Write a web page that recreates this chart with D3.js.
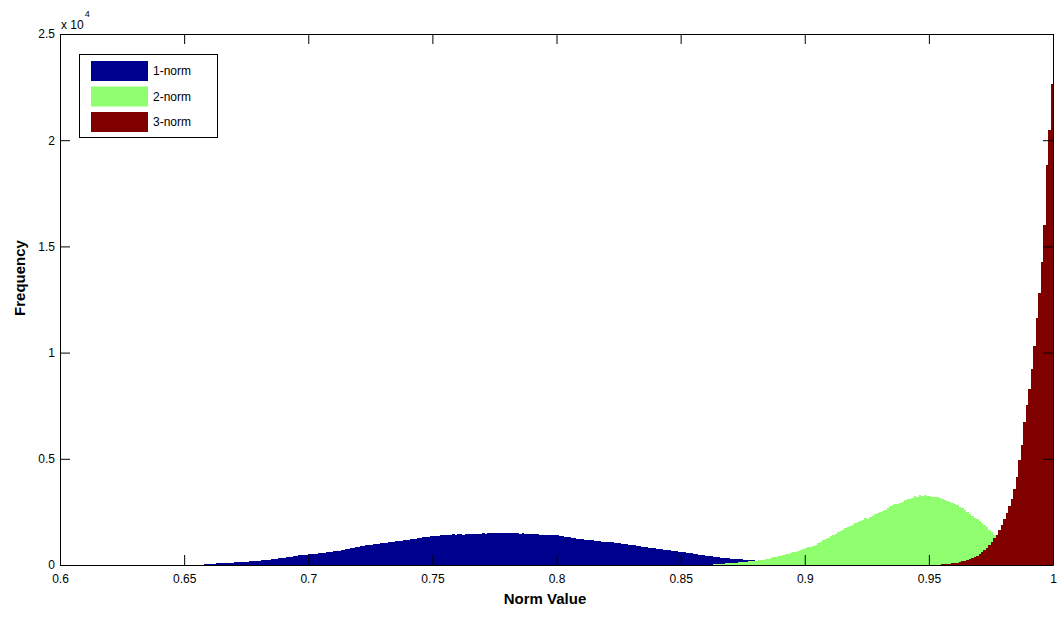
<!DOCTYPE html>
<html>
<head>
<meta charset="utf-8">
<script src="https://cdn.jsdelivr.net/npm/d3@7"></script>
<style>
  html, body { margin: 0; padding: 0; background: #fff; }
  svg { display: block; }
  text { font-family: Arial, "Liberation Sans", Helvetica, sans-serif; }
</style>
</head>
<body>
<svg id="chart" width="1063" height="620"></svg>
<script>
// ---------------- DATA ----------------
const seriesNames = ["1-norm", "2-norm", "3-norm"];
const binWidth = 0.001;

// 1-norm: bins start at 0.657, width 0.001
const norm1Start = 0.657;
const norm1Values = [
  20, 38, 50,
  58, 62, 70, 74, 80,
  88, 95, 100, 108, 114,
  121, 130, 136, 146, 150,
  160, 166, 178, 185, 194,
  204, 212, 228, 238, 252,
  268, 282, 300, 312, 330,
  352, 366, 384, 400, 418,
  438, 452, 460, 478, 486,
  505, 512, 530, 536, 550,
  565, 580, 596, 612, 628,
  648, 668, 680, 700, 718,
  742, 765, 786, 808, 832,
  858, 880, 900, 922, 940,
  962, 980, 990, 1008, 1018,
  1040, 1048, 1068, 1080, 1098,
  1115, 1130, 1145, 1160, 1178,
  1195, 1210, 1228, 1245, 1262,
  1280, 1300, 1315, 1330, 1350,
  1372, 1365, 1388, 1395, 1402,
  1415, 1400, 1425, 1440, 1430,
  1442, 1450, 1435, 1462, 1455,
  1470, 1458, 1480, 1465, 1478,
  1485, 1470, 1495, 1500, 1490,
  1510, 1525, 1500, 1530, 1515,
  1520, 1505, 1512, 1495, 1500,
  1480, 1492, 1470, 1465, 1475,
  1450, 1440, 1458, 1432, 1435,
  1425, 1410, 1430, 1405, 1412,
  1390, 1370, 1355, 1335, 1325,
  1300, 1280, 1262, 1240, 1225,
  1210, 1195, 1185, 1168, 1160,
  1140, 1130, 1120, 1105, 1098,
  1085, 1070, 1065, 1050, 1045,
  1025, 1010, 990, 975, 960,
  940, 925, 900, 885, 865,
  840, 828, 805, 790, 778,
  760, 745, 730, 712, 700,
  685, 672, 660, 645, 632,
  618, 600, 582, 565, 548,
  528, 510, 492, 478, 460,
  442, 430, 410, 398, 385,
  368, 352, 340, 322, 310,
  295, 288, 275, 268, 260,
  250, 240, 232, 220, 212,
  200, 192, 185, 178, 170,
  160, 150, 142, 132, 125,
  115, 110, 102, 98, 92,
  85, 80, 72, 68, 62
];

// 2-norm: bins start at 0.863, width 0.001
const norm2Start = 0.863;
const norm2Values = [
  45, 50, 55, 60, 68, 75, 82, 90, 98, 108,
  118, 128, 140, 155, 168, 180, 192, 205, 220, 235,
  250, 268, 295, 325, 355, 380, 415, 445, 475, 505,
  535, 565, 595, 625, 660, 690, 735, 780, 825, 870,
  915, 960, 1025, 1090, 1155, 1220, 1285, 1350, 1415, 1480,
  1545, 1605, 1670, 1735, 1795, 1855, 1900, 1955, 2005, 2055,
  2105, 2190, 2170, 2260, 2290, 2380, 2470, 2495, 2555, 2600,
  2695, 2755, 2830, 2850, 2860, 2920, 2950, 3070, 3095, 3120,
  3175, 3230, 3190, 3290, 3240, 3280, 3230, 3260, 3225, 3190,
  3190, 3135, 3120, 3065, 3020, 2980, 2940, 2875, 2810, 2745,
  2680, 2595, 2505, 2415, 2325, 2235, 2150, 2065, 1980, 1885,
  1780, 1670, 1540, 1405, 1270, 1130, 990, 850, 705, 565,
  445, 330, 235, 165, 110, 70, 45, 28, 15
];

// 3-norm: bins start at 0.955, width 0.001
const norm3Start = 0.955;
const norm3Values = [
  30, 47, 55, 70, 85, 100, 115, 140, 175, 210,
  245, 290, 340, 390, 445, 525, 600, 695, 815, 930,
  1080, 1250, 1410, 1670, 1905, 2165, 2470, 2780, 3110, 3580,
  4140, 4940, 5650, 6730, 7530, 8290, 9230, 10310, 11630, 12800,
  14260, 16000, 18830, 20480, 22650
];

const xTicks = [0.6, 0.65, 0.7, 0.75, 0.8, 0.85, 0.9, 0.95, 1];
const xTickLabels = ["0.6", "0.65", "0.7", "0.75", "0.8", "0.85", "0.9", "0.95", "1"];
const yTicks = [0, 5000, 10000, 15000, 20000, 25000];
const yTickLabels = ["0", "0.5", "1", "1.5", "2", "2.5"];
const colors = ["#00008F", "#8FFF70", "#800000"];

// ---------------- CHART ----------------
const svg = d3.select("#chart");
const L = 60, R = 1053, T = 34, B = 565;
const x = d3.scaleLinear().domain([0.6, 1]).range([L, R]);
const y = d3.scaleLinear().domain([0, 25000]).range([B, T]);

svg.append("rect").attr("width", 1063).attr("height", 620).attr("fill", "#fff");

svg.append("clipPath").attr("id", "clip")
  .append("rect").attr("x", L).attr("y", T).attr("width", R - L).attr("height", B - T);

const series = [
  { start: norm1Start, values: norm1Values },
  { start: norm2Start, values: norm2Values },
  { start: norm3Start, values: norm3Values }
];

series.forEach((s, i) => {
  const bins = s.values.map((v, k) => ({ x0: s.start + k * binWidth, x1: s.start + (k + 1) * binWidth, v }));
  svg.append("g").attr("clip-path", "url(#clip)")
    .selectAll("rect").data(bins).join("rect")
    .attr("x", d => Math.round(x(d.x0)))
    .attr("width", d => Math.round(x(d.x1)) - Math.round(x(d.x0)))
    .attr("y", d => Math.round(y(d.v)))
    .attr("height", d => Math.round(y(0)) - Math.round(y(d.v)))
    .attr("fill", colors[i])
    .attr("shape-rendering", "crispEdges");
});

// axes
const fmtX = d => xTickLabels[xTicks.indexOf(d)];
const fmtY = d => yTickLabels[yTicks.indexOf(d)];

function styleAxis(g) {
  g.selectAll("path.domain").attr("stroke", "#000").attr("stroke-width", 1);
  g.selectAll(".tick line").attr("stroke", "#000");
  g.selectAll(".tick text").attr("fill", "#000").style("font-size", "12px")
    .style("font-family", "Arial, 'Liberation Sans', sans-serif");
}

svg.append("g").attr("transform", `translate(0,${B})`)
  .call(d3.axisBottom(x).tickValues(xTicks).tickFormat(fmtX).tickSizeInner(-10).tickSizeOuter(0).tickPadding(9))
  .call(styleAxis);
svg.append("g").attr("transform", `translate(0,${T})`)
  .call(d3.axisTop(x).tickValues(xTicks).tickFormat("").tickSizeInner(-10).tickSizeOuter(0))
  .call(styleAxis);
svg.append("g").attr("transform", `translate(${L},0)`)
  .call(d3.axisLeft(y).tickValues(yTicks).tickFormat(fmtY).tickSizeInner(-10).tickSizeOuter(0).tickPadding(5))
  .call(styleAxis);
svg.append("g").attr("transform", `translate(${R},0)`)
  .call(d3.axisRight(y).tickValues(yTicks).tickFormat("").tickSizeInner(-10).tickSizeOuter(0))
  .call(styleAxis);

// exponent label
const ex = svg.append("text").attr("x", 61).attr("y", 29).style("font-size", "12px").attr("fill", "#000");
ex.append("tspan").text("x 10");
ex.append("tspan").attr("dy", -12).style("font-size", "9px").attr("dx", 1).text("4");

// axis titles
svg.append("text").attr("x", 545).attr("y", 604).attr("text-anchor", "middle")
  .style("font-size", "15px").style("font-weight", "bold").attr("fill", "#000").text("Norm Value");
svg.append("text").attr("transform", "translate(25,278) rotate(-90)").attr("text-anchor", "middle")
  .style("font-size", "15px").style("font-weight", "bold").attr("fill", "#000").text("Frequency");

// legend
const lg = svg.append("g");
lg.append("rect").attr("x", 79.5).attr("y", 54.5).attr("width", 138).attr("height", 83)
  .attr("fill", "#fff").attr("stroke", "#000").attr("stroke-width", 1);
const legendY = [71, 96.5, 122];
seriesNames.forEach((n, i) => {
  lg.append("rect").attr("x", 91).attr("y", legendY[i] - 10).attr("width", 57).attr("height", 20).attr("fill", colors[i]);
  lg.append("text").attr("x", 153).attr("y", legendY[i]).attr("dy", "0.35em")
    .style("font-size", "12px").attr("fill", "#000").text(n);
});
</script>
</body>
</html>
